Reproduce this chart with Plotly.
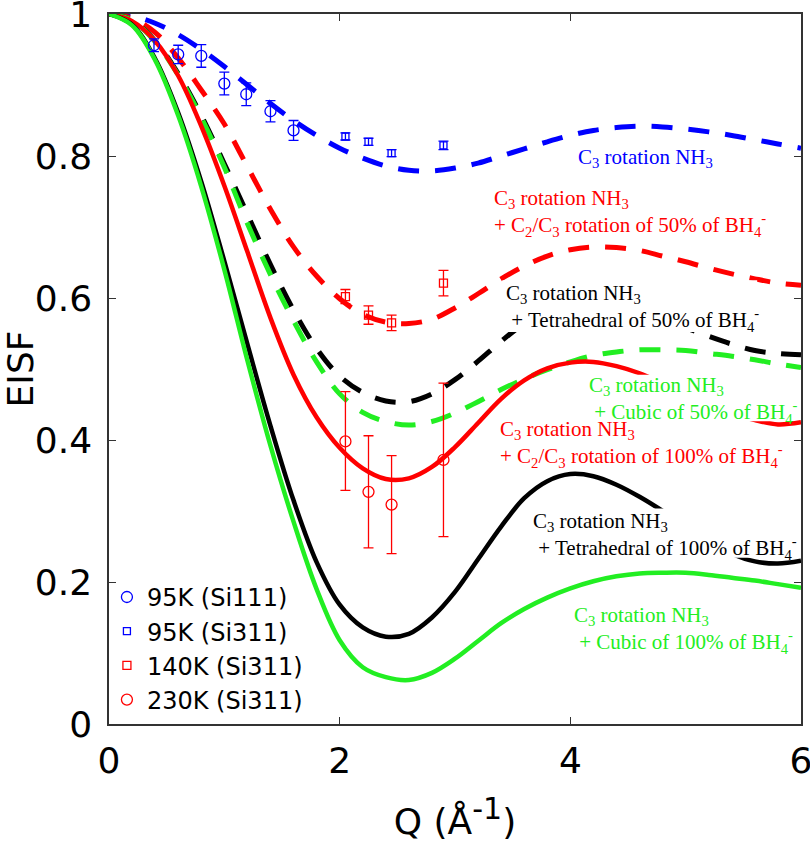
import plotly.graph_objects as go

# ---------------- data ----------------
# Q grid on which the model curves were read off the picture
q_grid = [0.0, 0.2, 0.4, 0.6, 0.8, 1.0, 1.2, 1.4, 1.6, 1.8, 2.0, 2.2, 2.4, 2.6, 2.8, 3.0,
          3.2, 3.4, 3.6, 3.8, 4.0, 4.2, 4.4, 4.6, 4.8, 5.0, 5.2, 5.4, 5.6, 5.8, 6.0]

# C3 rotation NH3 (blue dashed)
blue_dash = [1.000, 0.997, 0.987, 0.971, 0.950, 0.926, 0.900, 0.874, 0.850, 0.829, 0.811,
             0.797, 0.786, 0.780, 0.779, 0.783, 0.790, 0.800, 0.810, 0.820, 0.829, 0.836,
             0.840, 0.842, 0.841, 0.838, 0.834, 0.829, 0.823, 0.817, 0.811]
# + C2/C3 rotation of 50% of BH4 (red dashed)
red_dash = [1.000, 0.994, 0.974, 0.938, 0.893, 0.845, 0.785, 0.725, 0.672, 0.631, 0.599,
            0.577, 0.566, 0.564, 0.570, 0.586, 0.606, 0.627, 0.645, 0.659, 0.668, 0.672,
            0.671, 0.667, 0.659, 0.651, 0.642, 0.634, 0.627, 0.621, 0.618]
# + Tetrahedral of 50% of BH4 (black dashed)
black_dash = [1.000, 0.991, 0.962, 0.916, 0.857, 0.789, 0.718, 0.647, 0.583, 0.529, 0.490,
              0.467, 0.455, 0.454, 0.465, 0.485, 0.511, 0.539, 0.564, 0.581, 0.591, 0.593,
              0.589, 0.581, 0.571, 0.558, 0.546, 0.535, 0.526, 0.522, 0.520]
# + Cubic of 50% of BH4 (green dashed)
green_dash = [1.000, 0.991, 0.961, 0.914, 0.854, 0.784, 0.705, 0.633, 0.568, 0.510, 0.465,
              0.439, 0.426, 0.421, 0.426, 0.438, 0.454, 0.471, 0.486, 0.499, 0.510, 0.519,
              0.524, 0.527, 0.527, 0.526, 0.522, 0.518, 0.513, 0.507, 0.502]
# + C2/C3 rotation of 100% of BH4 (red solid)
red_solid = [1.000, 0.990, 0.962, 0.913, 0.842, 0.758, 0.665, 0.572, 0.492, 0.432, 0.389,
             0.360, 0.345, 0.346, 0.362, 0.390, 0.424, 0.458, 0.484, 0.501, 0.509, 0.510,
             0.504, 0.494, 0.480, 0.465, 0.450, 0.437, 0.428, 0.422, 0.425]
# + Tetrahedral of 100% of BH4 (black solid)
black_solid = [1.000, 0.985, 0.937, 0.861, 0.764, 0.652, 0.535, 0.420, 0.315, 0.228, 0.168,
               0.136, 0.123, 0.127, 0.150, 0.186, 0.232, 0.278, 0.318, 0.342, 0.352, 0.349,
               0.337, 0.320, 0.300, 0.278, 0.258, 0.240, 0.229, 0.226, 0.230]
# + Cubic of 100% of BH4 (green solid)
green_solid = [1.000, 0.984, 0.935, 0.857, 0.757, 0.640, 0.512, 0.392, 0.285, 0.190, 0.118,
               0.080, 0.066, 0.062, 0.072, 0.092, 0.117, 0.142, 0.162, 0.178, 0.191, 0.201,
               0.208, 0.212, 0.213, 0.213, 0.210, 0.206, 0.202, 0.197, 0.192]

# experimental points
q_95_111 = [0.39, 0.60, 0.80, 1.00, 1.19, 1.40, 1.60]
v_95_111 = [0.956, 0.943, 0.941, 0.902, 0.887, 0.863, 0.836]
e_95_111 = [0.009, 0.013, 0.016, 0.016, 0.016, 0.015, 0.014]

q_95_311 = [2.05, 2.25, 2.45, 2.90]
v_95_311 = [0.8275, 0.820, 0.804, 0.815]
e_95_311 = [0.005, 0.005, 0.005, 0.006]

q_140 = [2.05, 2.25, 2.45, 2.90]
v_140 = [0.602, 0.576, 0.565, 0.621]
e_140 = [0.010, 0.013, 0.011, 0.018]

q_230 = [2.05, 2.25, 2.45, 2.90]
v_230 = [0.398, 0.327, 0.309, 0.372]
e_230_plus = [0.070, 0.079, 0.069, 0.108]
e_230_minus = [0.069, 0.079, 0.069, 0.108]

x_ticks = [0, 2, 4, 6]
y_ticks = [0, 0.2, 0.4, 0.6, 0.8, 1.0]
y_tick_text = ["0", "0.2", "0.4", "0.6", "0.8", "1"]

BLUE = "#0000FF"
RED = "#FF0000"
GREEN = "#22EE22"
BLACK = "#000000"

fig = go.Figure()

def curve(v, color, dashed):
    fig.add_trace(go.Scatter(
        x=q_grid, y=v, mode="lines", showlegend=False, hoverinfo="skip",
        line=dict(color=color, width=5 if dashed else 4.5,
                  dash="21px,16px" if dashed else "solid",
                  shape="spline", smoothing=1.0)))

curve(blue_dash, BLUE, True)
curve(red_dash, RED, True)
curve(black_dash, BLACK, True)
curve(green_dash, GREEN, True)
curve(red_solid, RED, False)
curve(black_solid, BLACK, False)
curve(green_solid, GREEN, False)

def points(q, v, eplus, eminus, color, symbol, size, name):
    fig.add_trace(go.Scatter(
        x=q, y=v, mode="markers", name=name,
        marker=dict(symbol=symbol, size=size, color=color,
                    line=dict(color=color, width=1.3)),
        error_y=dict(type="data", array=eplus, arrayminus=eminus, symmetric=False,
                     color=color, thickness=1.3, width=5)))

points(q_95_111, v_95_111, e_95_111, e_95_111, BLUE, "circle-open", 11, "95K (Si111)")
points(q_95_311, v_95_311, e_95_311, e_95_311, BLUE, "square-open", 7, "95K (Si311)")
points(q_140, v_140, e_140, e_140, RED, "square-open", 8, "140K (Si311)")
points(q_230, v_230, e_230_plus, e_230_minus, RED, "circle-open", 11, "230K (Si311)")

# white boxes behind three of the labels (they mask the curves, as in the original)
for x0, x1, y0, y1 in [(3.41, 5.62, 0.552, 0.625),
                       (4.15, 5.92, 0.4265, 0.492),
                       (3.665, 5.90, 0.234, 0.3035)]:
    fig.add_shape(type="rect", xref="x", yref="y", x0=x0, x1=x1, y0=y0, y1=y1,
                  fillcolor="white", line=dict(width=0), layer="above")

SERIF = "Liberation Serif, Times New Roman, serif"
ann = [
    (4.055, 0.797, BLUE, "C<sub>3</sub> rotation NH<sub>3</sub>"),
    (3.328, 0.720, RED, "C<sub>3</sub> rotation NH<sub>3</sub><br>+ C<sub>2</sub>/C<sub>3</sub> rotation of 50% of BH<sub>4</sub><sup>-</sup>"),
    (3.43, 0.586, BLACK, "C<sub>3</sub> rotation NH<sub>3</sub><br>&nbsp;+ Tetrahedral of 50% of BH<sub>4</sub><sup>-</sup>"),
    (4.15, 0.456, GREEN, "C<sub>3</sub> rotation NH<sub>3</sub><br>&nbsp;+ Cubic of 50% of BH<sub>4</sub><sup>-</sup>"),
    (3.38, 0.395, RED, "C<sub>3</sub> rotation NH<sub>3</sub><br>+ C<sub>2</sub>/C<sub>3</sub> rotation of 100% of BH<sub>4</sub><sup>-</sup>"),
    (3.665, 0.265, BLACK, "C<sub>3</sub> rotation NH<sub>3</sub><br>&nbsp;+ Tetrahedral of 100% of BH<sub>4</sub><sup>-</sup>"),
    (4.02, 0.133, GREEN, "C<sub>3</sub> rotation NH<sub>3</sub><br>&nbsp;+ Cubic of 100% of BH<sub>4</sub><sup>-</sup>"),
]
for x, y, c, t in ann:
    fig.add_annotation(x=x, y=y, xref="x", yref="y", text=t, showarrow=False,
                       xanchor="left", yanchor="middle", align="left",
                       font=dict(family=SERIF, size=21, color=c), borderpad=0)

SANS = "DejaVu Sans, Arial, sans-serif"
axis_common = dict(showline=True, linecolor="#333333", linewidth=1.5, mirror="ticks",
                   ticks="inside", ticklen=7, tickcolor="#333333", tickwidth=1.2,
                   showgrid=False, zeroline=False, ticklabeloverflow="allow",
                   tickfont=dict(family=SANS, size=36, color="black"))

fig.update_xaxes(range=[0, 6], tickvals=x_ticks, ticklabelstandoff=4,
                 title=dict(text="Q (Å<sup><span style='font-size:30px'>-1</span></sup>)",
                            font=dict(family=SANS, size=36, color="black"), standoff=30),
                 **axis_common)
fig.update_yaxes(range=[0, 1], tickvals=y_ticks, ticktext=y_tick_text, ticklabelstandoff=8,
                 title=dict(text="EISF", font=dict(family=SANS, size=36, color="black"), standoff=10),
                 **axis_common)

fig.update_layout(
    width=810, height=842,
    margin=dict(l=109, r=9, t=14, b=118, autoexpand=False),
    paper_bgcolor="white", plot_bgcolor="white",
    showlegend=True,
    legend=dict(x=-0.003, y=0.21, xanchor="left", yanchor="top",
                bgcolor="rgba(0,0,0,0)", borderwidth=0, tracegroupgap=0,
                font=dict(family=SANS, size=24, color="black")),
)

fig.write_html("out.html")
